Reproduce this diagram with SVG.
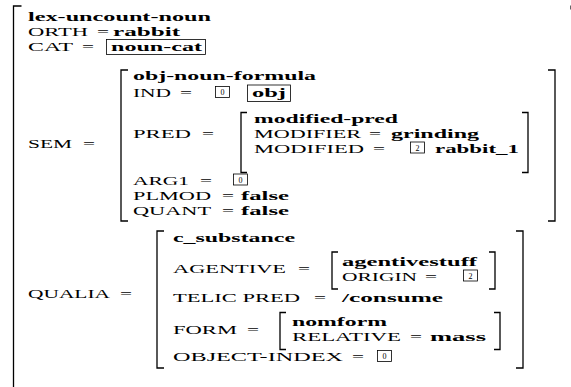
<svg xmlns="http://www.w3.org/2000/svg" width="571" height="387" viewBox="0 0 571 387">
<style>
text{font-family:"Liberation Serif","Times New Roman",serif;font-size:13px;fill:#000}
.b{font-weight:bold}
.t{font-size:8px;text-anchor:middle}
.br{fill:none;stroke:#000;stroke-width:1.3}
.bx{fill:none;stroke:#000;stroke-width:0.8}
</style>
<rect width="571" height="387" fill="#fff"/>
<g id="connectors">
<path class="br" d="M21.5,6 H13.5 V388"/>
<path d="M570.5,5.5 V9.5" stroke="#666" stroke-width="1"/>
</g>
<g id="top">
<text class="b" x="28" y="20.5" textLength="183" lengthAdjust="spacingAndGlyphs">lex-uncount-noun</text>
<text x="28" y="35.5" textLength="60" lengthAdjust="spacingAndGlyphs">ORTH</text>
<text x="97" y="35.5" textLength="12" lengthAdjust="spacingAndGlyphs">=</text>
<text class="b" x="113" y="35.5" textLength="67" lengthAdjust="spacingAndGlyphs">rabbit</text>
<text x="28" y="50.5" textLength="45" lengthAdjust="spacingAndGlyphs">CAT</text>
<text x="82" y="50.5" textLength="12" lengthAdjust="spacingAndGlyphs">=</text>
<rect class="bx" x="106.5" y="39.5" width="99" height="15"/>
<text class="b" x="111" y="50.5" textLength="91" lengthAdjust="spacingAndGlyphs">noun-cat</text>
</g>
<g id="sem">
<text x="28" y="148" textLength="44" lengthAdjust="spacingAndGlyphs">SEM</text>
<text x="83" y="148" textLength="12" lengthAdjust="spacingAndGlyphs">=</text>
<path class="br" d="M128,70 H121 V221 H128"/>
<path class="br" d="M548,70 H555 V221 H548"/>
<text class="b" x="133" y="79.5" textLength="183" lengthAdjust="spacingAndGlyphs">obj-noun-formula</text>
<text x="133" y="97" textLength="38" lengthAdjust="spacingAndGlyphs">IND</text>
<text x="180" y="97" textLength="12" lengthAdjust="spacingAndGlyphs">=</text>
<rect class="bx" x="215.5" y="86.5" width="14" height="11"/>
<text class="t" x="222.5" y="95">0</text>
<rect class="bx" x="247.5" y="85" width="43" height="16.5"/>
<text class="b" x="252" y="97" textLength="34" lengthAdjust="spacingAndGlyphs">obj</text>
<text x="133" y="137.5" textLength="58" lengthAdjust="spacingAndGlyphs">PRED</text>
<text x="202" y="137.5" textLength="12" lengthAdjust="spacingAndGlyphs">=</text>
<g id="modified-pred">
<path class="br" d="M247,112.5 H241 V172.5 H247"/>
<path class="br" d="M522,112.5 H528 V172.5 H522"/>
<text class="b" x="254" y="122.5" textLength="144" lengthAdjust="spacingAndGlyphs">modified-pred</text>
<text x="254" y="137.5" textLength="107" lengthAdjust="spacingAndGlyphs">MODIFIER</text>
<text x="369" y="137.5" textLength="12" lengthAdjust="spacingAndGlyphs">=</text>
<text class="b" x="391" y="137.5" textLength="88" lengthAdjust="spacingAndGlyphs">grinding</text>
<text x="254" y="152.5" textLength="110" lengthAdjust="spacingAndGlyphs">MODIFIED</text>
<text x="373" y="152.5" textLength="12" lengthAdjust="spacingAndGlyphs">=</text>
<rect class="bx" x="410.5" y="142" width="14" height="11"/>
<text class="t" x="417.5" y="150.5">2</text>
<text class="b" x="435" y="152.5" textLength="84" lengthAdjust="spacingAndGlyphs">rabbit_1</text>
</g>
<text x="133" y="184.5" textLength="56" lengthAdjust="spacingAndGlyphs">ARG1</text>
<text x="200" y="184.5" textLength="12" lengthAdjust="spacingAndGlyphs">=</text>
<rect class="bx" x="233.5" y="174" width="14" height="11"/>
<text class="t" x="240.5" y="182.5">0</text>
<text x="133" y="199.5" textLength="78" lengthAdjust="spacingAndGlyphs">PLMOD</text>
<text x="222" y="199.5" textLength="12" lengthAdjust="spacingAndGlyphs">=</text>
<text class="b" x="241" y="199.5" textLength="48" lengthAdjust="spacingAndGlyphs">false</text>
<text x="133" y="214.5" textLength="78" lengthAdjust="spacingAndGlyphs">QUANT</text>
<text x="222" y="214.5" textLength="12" lengthAdjust="spacingAndGlyphs">=</text>
<text class="b" x="241" y="214.5" textLength="48" lengthAdjust="spacingAndGlyphs">false</text>
</g>
<g id="qualia">
<text x="28" y="298" textLength="82" lengthAdjust="spacingAndGlyphs">QUALIA</text>
<text x="120" y="298" textLength="12" lengthAdjust="spacingAndGlyphs">=</text>
<path class="br" d="M164,231 H157 V368 H164"/>
<path class="br" d="M516,231 H523 V368 H516"/>
<text class="b" x="173" y="241.5" textLength="122" lengthAdjust="spacingAndGlyphs">c_substance</text>
<text x="173" y="273" textLength="113" lengthAdjust="spacingAndGlyphs">AGENTIVE</text>
<text x="298" y="273" textLength="12" lengthAdjust="spacingAndGlyphs">=</text>
<g id="agentive">
<path class="br" d="M338,252 H332 V289 H338"/>
<path class="br" d="M489,252 H495 V289 H489"/>
<text class="b" x="342" y="265.5" textLength="135" lengthAdjust="spacingAndGlyphs">agentivestuff</text>
<text x="342" y="280.5" textLength="75" lengthAdjust="spacingAndGlyphs">ORIGIN</text>
<text x="425" y="280.5" textLength="12" lengthAdjust="spacingAndGlyphs">=</text>
<rect class="bx" x="463.5" y="270" width="14" height="11"/>
<text class="t" x="470.5" y="278.5">2</text>
</g>
<text x="173" y="302" textLength="127" lengthAdjust="spacingAndGlyphs">TELIC PRED</text>
<text x="314" y="302" textLength="12" lengthAdjust="spacingAndGlyphs">=</text>
<text class="b" x="342" y="302" textLength="101" lengthAdjust="spacingAndGlyphs">/consume</text>
<text x="173" y="333.5" textLength="64" lengthAdjust="spacingAndGlyphs">FORM</text>
<text x="247" y="333.5" textLength="12" lengthAdjust="spacingAndGlyphs">=</text>
<g id="form">
<path class="br" d="M286,312.5 H280 V349.5 H286"/>
<path class="br" d="M494,312.5 H500 V349.5 H494"/>
<text class="b" x="292" y="326" textLength="95" lengthAdjust="spacingAndGlyphs">nomform</text>
<text x="292" y="341" textLength="109" lengthAdjust="spacingAndGlyphs">RELATIVE</text>
<text x="410" y="341" textLength="12" lengthAdjust="spacingAndGlyphs">=</text>
<text class="b" x="430" y="341" textLength="56" lengthAdjust="spacingAndGlyphs">mass</text>
</g>
<text x="173" y="361" textLength="170" lengthAdjust="spacingAndGlyphs">OBJECT-INDEX</text>
<text x="352" y="361" textLength="12" lengthAdjust="spacingAndGlyphs">=</text>
<rect class="bx" x="377.5" y="350.5" width="14" height="11"/>
<text class="t" x="384.5" y="359">0</text>
</g>
</svg>
